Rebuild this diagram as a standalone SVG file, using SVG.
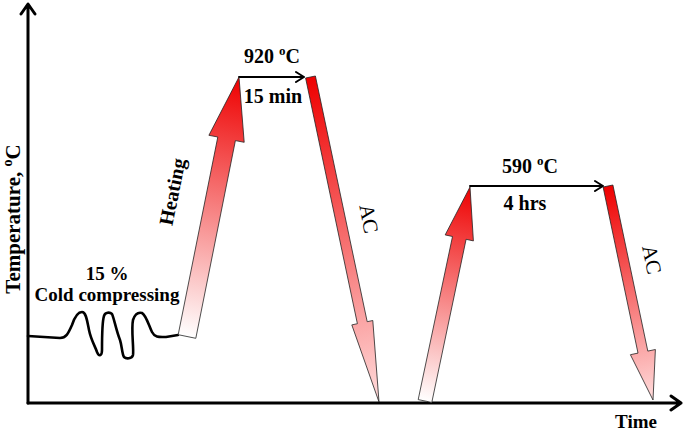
<svg xmlns="http://www.w3.org/2000/svg" width="685" height="433" viewBox="0 0 685 433">
<style>
.lbl{font-family:"Liberation Serif","Times New Roman",serif;font-weight:bold;fill:#000;}
.ac{font-family:"Liberation Serif","Times New Roman",serif;font-weight:normal;fill:#000;font-size:21px;}
.axis{stroke:#000;stroke-width:3;fill:none;stroke-linecap:round;stroke-linejoin:round;}
.harr{stroke:#000;stroke-width:2;fill:none;stroke-linecap:round;stroke-linejoin:round;}
.fat{stroke:#222;stroke-width:0.8;stroke-linejoin:miter;}
</style>
<defs>
<linearGradient id="gH1" gradientUnits="userSpaceOnUse" x1="187" y1="336.5" x2="239" y2="77">
<stop offset="0" stop-color="#ffffff"/><stop offset="1" stop-color="#ee0000"/>
</linearGradient>
<linearGradient id="gH2" gradientUnits="userSpaceOnUse" x1="425" y1="401" x2="470" y2="187">
<stop offset="0" stop-color="#ffffff"/><stop offset="1" stop-color="#ee0000"/>
</linearGradient>
<linearGradient id="gC1" gradientUnits="userSpaceOnUse" x1="310.5" y1="77" x2="379" y2="402">
<stop offset="0" stop-color="#ee0000"/><stop offset="1" stop-color="#ffdcdc"/>
</linearGradient>
<linearGradient id="gC2" gradientUnits="userSpaceOnUse" x1="608" y1="186" x2="653" y2="400">
<stop offset="0" stop-color="#ee0000"/><stop offset="1" stop-color="#ffdcdc"/>
</linearGradient>
</defs>
<g id="axes">
<path class="axis" d="M28,403 L28,5 M21,14 L28,4 L35,14"/>
<path class="axis" d="M28,403 L681,403 M671,396 L681,403 L671,410"/>
<text class="lbl" font-size="19" x="636" y="428" text-anchor="middle">Time</text>
<text class="lbl" font-size="21" transform="translate(20,219) rotate(-90)" text-anchor="middle">Temperature, <tspan font-size="14" dy="-8">o</tspan><tspan dy="8">C</tspan></text>
</g>
<g id="connectors">
<path id="cold" d="M28,336 L60,338 C66,338 68,334 72,325 C75,316 78,312 82,312 C86,312 87,320 89,330 C91,340 95,346 97,352 C99,357 102,356 102,350 C102,340 102,322 104,316 C105,312 110,312 112,314 C114,318 116,330 120,340 C122,346 122,354 124,357 C126,359 132,359 133,355 C134,348 131,330 133,320 C135,314 138,312 142,313 C146,315 149,326 152,332 C155,338 160,337 166,337 L178,335" fill="none" stroke="#000" stroke-width="2.6" stroke-linejoin="round" stroke-linecap="round"/>
<path id="hold1" class="harr" d="M239,77 L304,77 M296,72 L304,77 L296,82"/>
<path id="hold2" class="harr" d="M470,186 L603,186 M595,181 L603,186 L595,191"/>
</g>
<g id="heating1">
<polygon class="fat" fill="url(#gH1)" points="178.2,334.7 217.8,137.0 208.9,135.3 239,77 244.2,142.3 235.4,140.6 195.8,338.3"/>
<text class="lbl" font-size="20" transform="translate(179,193) rotate(-78.7)" text-anchor="middle">Heating</text>
</g>
<g id="cooling1">
<polygon class="fat" fill="url(#gC1)" points="305.6,78.0 315.4,76.0 367.2,321.7 372.8,320.5 379,402 351.8,324.9 357.4,323.7"/>
<text class="ac" transform="translate(362,220) rotate(79)" text-anchor="middle">AC</text>
</g>
<g id="heating2">
<polygon class="fat" fill="url(#gH2)" points="418.2,399.6 452.5,236.5 445.2,234.9 470,187 473.4,240.9 466.1,239.3 431.8,402.4"/>
</g>
<g id="cooling2">
<polygon class="fat" fill="url(#gC2)" points="603.1,187.0 612.9,185.0 647.8,351.1 655.4,349.5 653,400 630.4,354.7 638.0,353.1"/>
<text class="ac" transform="translate(645,261) rotate(78)" text-anchor="middle">AC</text>
</g>
<g id="labels">
<text class="lbl" font-size="19" x="107" y="280" text-anchor="middle">15 %</text>
<text class="lbl" font-size="19" x="107" y="301" text-anchor="middle">Cold compressing</text>
<text class="lbl" font-size="20" x="272" y="63" text-anchor="middle">920 <tspan font-size="13" dy="-8">o</tspan><tspan dy="8">C</tspan></text>
<text class="lbl" font-size="20" x="273" y="103" text-anchor="middle">15 min</text>
<text class="lbl" font-size="20" x="530" y="173" text-anchor="middle">590 <tspan font-size="13" dy="-8">o</tspan><tspan dy="8">C</tspan></text>
<text class="lbl" font-size="20" x="525" y="210" text-anchor="middle">4 hrs</text>
</g>
</svg>
